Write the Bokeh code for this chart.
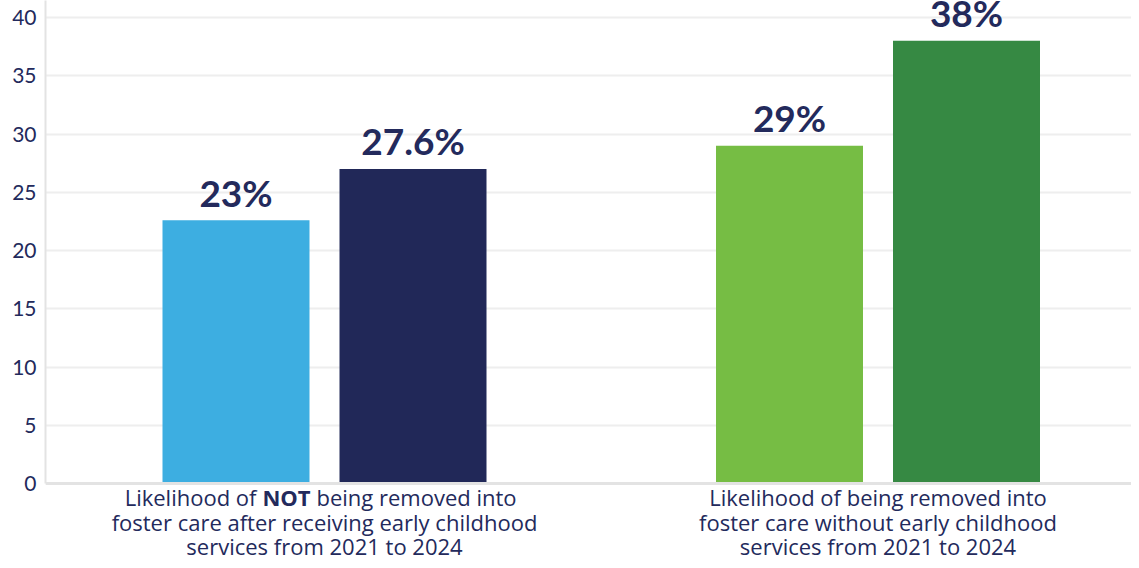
from bokeh.plotting import figure
from bokeh.models import Range1d, FixedTicker, ColumnDataSource, Span
from bokeh.embed import file_html
from bokeh.resources import INLINE
from bokeh.core.properties import value

# ---- data ----
categories = [
    "Likelihood of **NOT** being removed into|foster care after receiving early childhood|services from 2021 to 2024",
    "Likelihood of being removed into|foster care without early childhood|services from 2021 to 2024",
]
bar_group = [0, 0, 1, 1]
bar_side = [-1, 1, -1, 1]
bar_values = [22.6, 27.0, 29.0, 38.0]
bar_labels = ["23%", "27.6%", "29%", "38%"]
bar_colors = ["#3daee1", "#212858", "#76bd44", "#368943"]
y_ticks = [0, 5, 10, 15, 20, 25, 30, 35, 40]

TEXT = "#232a5c"
FONT = "Lato"
CAT_FONT = "Open Sans"
CAT_SIZE = 22

W, H = 1131, 560
LEFT = 45
BASE = 483          # pixel row of y = 0
PPU_Y = 466 / 40    # pixels per y unit
PPU_X = 553.5       # pixels per category
y_start = -(H - BASE) / PPU_Y
y_end = BASE / PPU_Y
x_start = 0.5 - (324 - LEFT) / PPU_X
x_end = x_start + (W - LEFT) / PPU_X

p = figure(width=W, height=H, output_backend="svg", toolbar_location=None,
           x_range=Range1d(x_start, x_end), y_range=Range1d(y_start, y_end),
           min_border_left=LEFT, min_border_right=0, min_border_top=0,
           min_border_bottom=0)
p.outline_line_color = None
p.background_fill_color = "white"
p.xaxis.visible = False

xs = [g + 0.5 + s * 88.5 / PPU_X for g, s in zip(bar_group, bar_side)]
src = ColumnDataSource(dict(x=xs, top=bar_values, color=bar_colors, label=bar_labels,
                            ly=[v + 28 / PPU_Y for v in bar_values]))

# grid
p.ygrid.ticker = FixedTicker(ticks=y_ticks)
p.ygrid.grid_line_color = "#eeeeee"
p.ygrid.grid_line_width = 2
p.xgrid.grid_line_color = None

p.vbar(x="x", top="top", bottom=0, width=147 / PPU_X, color="color", line_color=None, source=src)
p.text(x="x", y="ly", text="label", source=src, text_align="center",
       text_baseline="alphabetic", text_font=value(FONT), text_font_style="bold",
       text_font_size="37px", text_color=TEXT)

# baseline
p.add_layout(Span(location=0, dimension="width", line_color="#e3e3e3", line_width=3))

# y axis
p.yaxis.ticker = FixedTicker(ticks=y_ticks)
p.yaxis.bounds = (0, y_end)
p.yaxis.axis_line_color = "#e3e3e3"
p.yaxis.axis_line_width = 2
p.yaxis.major_tick_line_color = None
p.yaxis.minor_tick_line_color = None
p.yaxis.major_tick_out = 0
p.yaxis.major_tick_in = 0
p.yaxis.major_label_standoff = 9
p.yaxis.major_label_text_font = FONT
p.yaxis.major_label_text_font_size = "21px"
p.yaxis.major_label_text_color = TEXT

# category labels (multi-line, with a bold part)
line_px = [13.5, 38.5, 62.5]  # distance below the axis, px
for gi, cat in enumerate(categories):
    cx = gi + 0.5
    for li, line in enumerate(cat.split("|")):
        ly = -line_px[li] / PPU_Y
        common = dict(y=[ly], text_font=value(CAT_FONT), text_font_size=f"{CAT_SIZE}px",
                      text_color=TEXT, text_baseline="alphabetic")
        if "**" in line:
            left, bold, right = line.split("**")
            p.text(x=[cx], x_offset=-38, text=[bold], text_align="center",
                   text_font_style="bold", **common)
            p.text(x=[cx], x_offset=-68, text=[left.strip()], text_align="right", **common)
            p.text(x=[cx], x_offset=-8, text=[right.strip()], text_align="left", **common)
        else:
            p.text(x=[cx], text=[line], text_align="center", **common)

open("out.html", "w").write(file_html(p, INLINE))
